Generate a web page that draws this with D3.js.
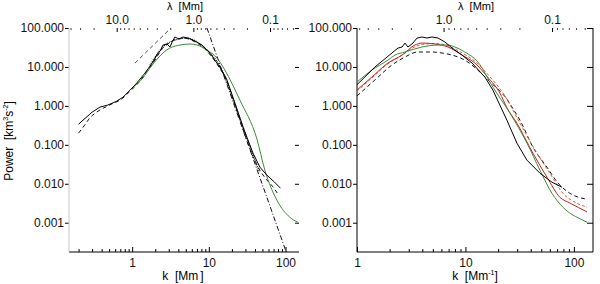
<!DOCTYPE html>
<html>
<head>
<meta charset="utf-8">
<script src="https://cdn.jsdelivr.net/npm/d3@7"></script>
<style>
body { margin: 0; background: #fff; }
svg { display: block; font-family: "Liberation Sans", Arial, sans-serif; }
text { white-space: pre; }
</style>
</head>
<body>
<div id="wrapper"></div>
<script>
// ---- left panel: observed spectrum, smoothed version, simulation, fit and power laws
const obsK  = [0.20, 0.30, 0.38, 0.48, 0.62, 0.76, 0.94, 1.15, 1.47, 1.87, 2.10, 2.35, 2.52, 2.84, 3.11, 3.35, 3.61, 4.1, 4.59, 5.34, 6.59, 8.13, 10.3, 13.9, 17.0, 21.9, 27.9, 37.7, 46.4, 57.2, 72, 86];
const obsV  = [0.34, 0.69, 0.93, 1.05, 1.3, 1.68, 2.55, 3.86, 6.97, 13.4, 20.2, 27, 36.5, 38.8, 32.5, 45, 58.7, 52, 58.7, 55.3, 46.3, 36.5, 22.8, 9.94, 5.0, 1.18, 0.285, 0.061, 0.0267, 0.0166, 0.011, 0.0077];
const obs2K = [0.20, 0.24, 0.28, 0.34, 0.48, 0.76, 0.94, 1.15, 1.47, 1.87, 2.5, 3.1, 3.8, 4.6, 5.5, 6.6, 8.1, 10.3, 13.9, 17.0, 21.9, 27.9, 37.7, 46.4, 57.2, 68, 78];
const obs2V = [0.20, 0.32, 0.49, 0.68, 1.0, 1.6, 2.4, 3.5, 6.5, 12.5, 30, 42, 52, 55, 52, 44, 34, 21, 9.2, 4.6, 1.05, 0.25, 0.05, 0.022, 0.0125, 0.0085, 0.0058];
const fitK  = [1.7, 2.5, 3.6, 5.2, 7.0, 9.5, 13.9, 21, 29.6, 39.8, 46];
const fitV  = [11, 32, 49, 55, 44, 27, 10.5, 1.4, 0.21, 0.041, 0.02];
const simK  = [1.0, 1.38, 1.71, 2.17, 2.52, 3.11, 4.2, 5.68, 7.0, 9.45, 12.8, 16.2, 25.4, 42.4, 53.8, 77.2, 114, 145];
const simV  = [2.9, 5.2, 9.4, 16.9, 22.8, 30.6, 36.5, 38.8, 36.5, 27.2, 16.9, 8.3, 1.41, 0.14, 0.0224, 0.0038, 0.00138, 0.00103];
const plLoK = [1.09, 3.2];
const plLoV = [12.6, 100];
const plHiK = [9.45, 104];
const plHiV = [100, 1.6e-4];

// ---- right panel
const rObsK  = [1.0, 1.46, 2.10, 2.39, 2.60, 2.77, 2.95, 3.28, 3.57, 3.97, 4.42, 4.91, 5.58, 6.47, 7.51, 9.29, 11.5, 15.1, 17.9, 24.1, 29.8, 36.9, 48.6, 62.7, 77.5];
const rObsV  = [3.5, 9.9, 22.8, 30.6, 32.5, 41, 32.5, 41, 55, 58.7, 55.3, 58.7, 55.3, 43.7, 30.6, 20.2, 12.6, 5.5, 2.55, 0.43, 0.111, 0.0405, 0.0187, 0.011, 0.0082];
const rObs2K = [1.0, 1.46, 2.10, 2.77, 3.65, 4.91, 6.08, 7.51, 9.86, 13.0, 17, 20.8, 24.1, 27.4, 31.8, 41.9, 56.4, 71.2, 91.9, 132];
const rObs2V = [1.8, 4.6, 11.2, 18, 24.2, 24.2, 22.8, 20.2, 15, 8.3, 4.0, 2.4, 1.5, 0.85, 0.43, 0.0875, 0.0267, 0.0105, 0.0057, 0.004];
const rRedK  = [1.0, 1.37, 1.93, 2.60, 3.42, 3.97, 5.24, 6.9, 9.29, 12.2, 16, 20.8, 24.1, 29.8, 41.9, 56.4, 74.3, 91.9, 132];
const rRedV  = [2.55, 5.5, 12.6, 20.2, 36.5, 41.1, 38.8, 32.5, 20.2, 12.6, 5.5, 2.13, 0.9, 0.36, 0.061, 0.0148, 0.0045, 0.0032, 0.0019];
const rRed2K = [1.0, 1.37, 1.93, 2.6, 3.42, 4.0, 5.24, 6.9, 9.29, 12.2, 16, 22.2, 31.8, 45.6, 60, 79.2, 106, 132];
const rRed2V = [2.4, 5.2, 12, 20, 33, 38, 40, 35, 23, 14, 6.5, 2.13, 0.361, 0.061, 0.0187, 0.0057, 0.0032, 0.0025];
const rSimK  = [1.0, 1.37, 1.93, 2.24, 2.77, 3.97, 5.58, 6.9, 8.0, 9.86, 13.0, 17.9, 25.7, 36.9, 48.6, 62.7, 79.2, 121, 132];
const rSimV  = [4.09, 8.3, 15, 20.2, 24.2, 32.5, 36.5, 36.5, 32.5, 24.2, 13.4, 3.04, 0.653, 0.111, 0.0224, 0.0057, 0.0025, 0.00116, 0.00103];

// ---- tick labels
const powerTicks = [100, 10, 1, 0.1, 0.01, 0.001];
const kTicks = [1, 10, 100];
const kMinor = [0.2, 0.3, 0.4, 0.5, 0.6, 0.7, 0.8, 0.9, 2, 3, 4, 5, 6, 7, 8, 9, 20, 30, 40, 50, 60, 70, 80, 90];
const lamTicks = [10, 1, 0.1];
const lamMinor = [40, 30, 20, 9, 8, 7, 6, 5, 4, 3, 2, 0.9, 0.8, 0.7, 0.6, 0.5, 0.4, 0.3, 0.2, 0.09, 0.08, 0.07, 0.06, 0.05];

const zip = (ks, vs) => ks.map((k, i) => ({k: k, v: vs[i]}));
const green = "#3f8a3a", red = "#c42020";

const svg = d3.select("#wrapper").append("svg")
    .attr("width", 600)
    .attr("height", 284);

const plotTop = 28, plotBottom = 252;
const yScaler = d3.scaleLog().domain([1.77e-4, 100]).range([plotBottom, plotTop]);

function drawPanel(p) {
    const x = d3.scaleLog().domain(p.kDomain).range([p.left, p.right]);
    const lam = d3.scaleLog().domain([2 * Math.PI / p.kDomain[0], 2 * Math.PI / p.kDomain[1]]).range([p.left, p.right]);
    const g = svg.append("g");

    // bottom axis, ticks pointing up
    g.append("g").attr("transform", `translate(0,${plotBottom})`)
        .call(d3.axisBottom(x).tickValues(kMinor.filter(d => d > p.kDomain[0] && d < p.kDomain[1])).tickFormat("").tickSize(-3))
        .call(a => a.select(".domain").remove());
    g.append("g").attr("transform", `translate(0,${plotBottom})`)
        .call(d3.axisBottom(x).tickValues(kTicks).tickFormat(d3.format("d")).tickSize(-5).tickPadding(6))
        .call(a => a.select(".domain").remove());

    // top axis in wavelength
    g.append("g").attr("transform", `translate(0,${plotTop})`)
        .call(d3.axisTop(lam).tickValues(lamMinor.filter(d => d < lam.domain()[0] && d > lam.domain()[1])).tickFormat("").tickSize(-2))
        .call(a => a.select(".domain").remove())
        .selectAll("line").attr("stroke", "#444");
    g.append("g").attr("transform", `translate(0,${plotTop})`)
        .call(d3.axisTop(lam).tickValues(lamTicks.filter(d => d < lam.domain()[0] && d > lam.domain()[1])).tickFormat(d3.format(".1f")).tickSize(-4).tickPadding(4))
        .call(a => a.select(".domain").remove());

    // left axis
    g.append("g").attr("transform", `translate(${p.left},0)`)
        .call(d3.axisLeft(yScaler).tickValues(powerTicks).tickFormat(d3.format(".3f")).tickSize(4).tickPadding(1))
        .call(a => a.select(".domain").remove());
    // right ticks
    g.append("g").attr("transform", `translate(${p.right},0)`)
        .call(d3.axisRight(yScaler).tickValues(powerTicks).tickFormat("").tickSize(-p.rightTick))
        .call(a => a.select(".domain").remove());

    g.selectAll(".tick text").attr("font-size", 12).attr("font-family", "Liberation Sans, Arial, sans-serif").attr("fill", "#111");

    // frame
    g.append("line").attr("x1", p.left).attr("x2", p.right).attr("y1", plotBottom).attr("y2", plotBottom).attr("stroke", "#000");
    g.append("line").attr("x1", p.left).attr("x2", p.left).attr("y1", plotTop).attr("y2", plotBottom).attr("stroke", p.leftColor);
    if (p.rightLine) {
        g.append("line").attr("x1", p.right).attr("x2", p.right).attr("y1", plotTop).attr("y2", plotBottom).attr("stroke", "#000");
    }

    // axis titles
    const kt = g.append("text").attr("x", p.kTitleX).attr("y", 280).attr("text-anchor", "middle").attr("font-size", 12);
    kt.append("tspan").text("k  [Mm");
    kt.append("tspan").attr("font-size", 7).attr("dy", -5).text(p.kSup);
    kt.append("tspan").attr("dy", 5).text("]");
    g.append("text").attr("x", p.lamTitleX).attr("y", 10).attr("text-anchor", "middle").attr("font-size", 11).text("λ  [Mm]");

    // curves
    const clipId = "clip" + p.left;
    svg.append("clipPath").attr("id", clipId).append("rect")
        .attr("x", p.left).attr("y", plotTop).attr("width", p.right - p.left).attr("height", plotBottom - plotTop);
    const plot = g.append("g").attr("clip-path", `url(#${clipId})`);
    p.series.forEach(s => {
        const line = d3.line()
            .x(d => x(d.k))
            .y(d => yScaler(d.v))
            .curve(s.smooth ? d3.curveMonotoneX : d3.curveLinear);
        plot.append("path")
            .attr("d", line(zip(s.k, s.v)))
            .attr("fill", "none")
            .attr("stroke", s.color)
            .attr("stroke-width", s.width || 1)
            .attr("stroke-dasharray", s.dash || null);
    });
}

drawPanel({
    left: 69, right: 299, kDomain: [0.15, 150],
    leftColor: "#c8c8c8", rightLine: false, rightTick: 4,
    kTitleX: 183, kSup: " ", lamTitleX: 185,
    series: [
        {k: plLoK, v: plLoV, color: "#222", dash: "4,3", width: 0.8},
        {k: plHiK, v: plHiV, color: "#111", dash: "5,2,1,2", width: 1},
        {k: fitK, v: fitV, color: "#111", dash: "1,1", width: 1.2, smooth: true},
        {k: obs2K, v: obs2V, color: "#111", dash: "4,3", smooth: true},
        {k: simK, v: simV, color: green, smooth: true},
        {k: obsK, v: obsV, color: "#000"}
    ]
});

drawPanel({
    left: 357, right: 593, kDomain: [1, 150],
    leftColor: "#000", rightLine: true, rightTick: 6,
    kTitleX: 475, kSup: "-1", lamTitleX: 476,
    series: [
        {k: rObs2K, v: rObs2V, color: "#111", dash: "4,3", smooth: true},
        {k: rRed2K, v: rRed2V, color: "#d0603a", dash: "3,2", smooth: true},
        {k: rRedK, v: rRedV, color: red, smooth: true},
        {k: rSimK, v: rSimV, color: green, smooth: true},
        {k: rObsK, v: rObsV, color: "#000"}
    ]
});

// y title
const yt = svg.append("text")
    .attr("transform", "translate(13,141) rotate(-90)")
    .attr("text-anchor", "middle")
    .attr("font-size", 12);
yt.append("tspan").text("Power  [km");
yt.append("tspan").attr("font-size", 7).attr("dy", -5).text("3");
yt.append("tspan").attr("dy", 5).text("s");
yt.append("tspan").attr("font-size", 7).attr("dy", -5).text("-2");
yt.append("tspan").attr("dy", 5).text("]");
</script>
</body>
</html>
